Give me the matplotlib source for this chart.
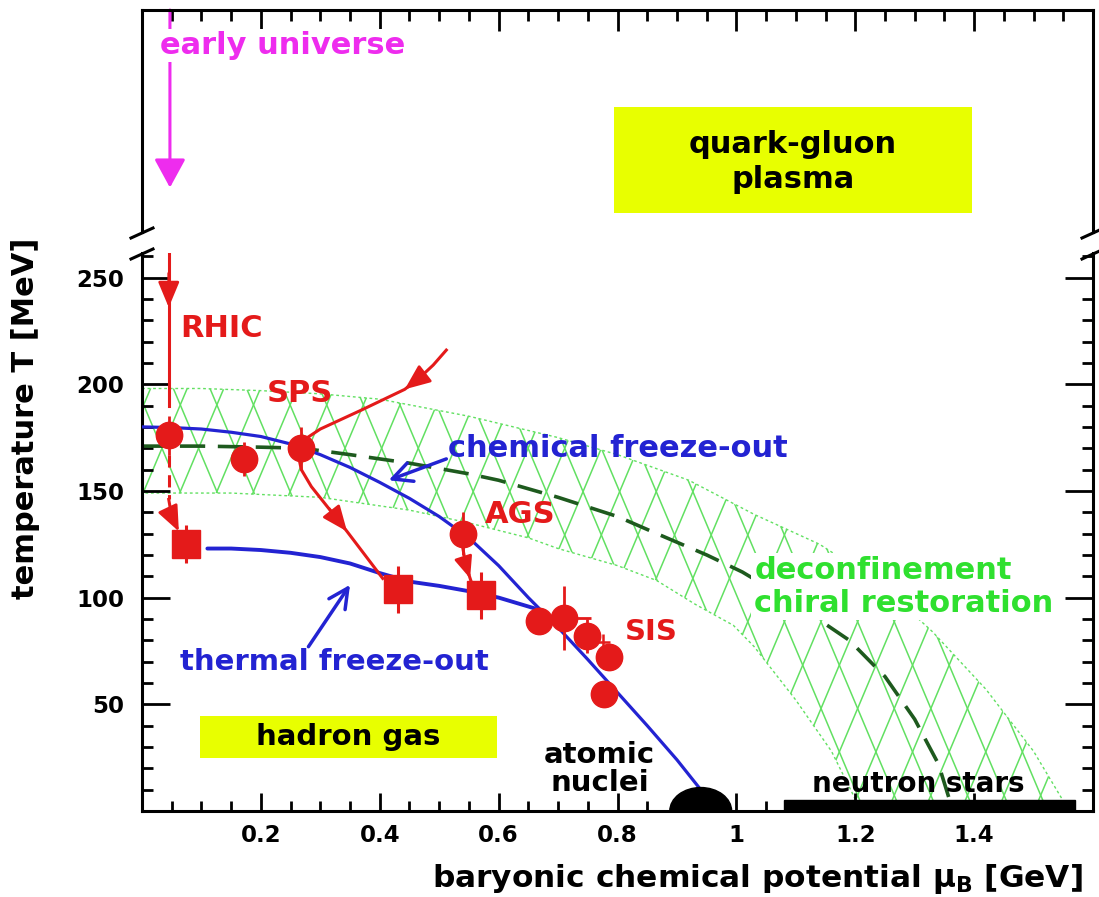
import numpy as np
import matplotlib
matplotlib.use('Agg')
import matplotlib.pyplot as plt
from matplotlib.patches import Polygon, Rectangle, Ellipse
from matplotlib.lines import Line2D
from matplotlib.collections import LineCollection
from matplotlib.ticker import MultipleLocator, FixedLocator, FixedFormatter

plt.rcParams['font.family'] = ['DejaVu Sans']
plt.rcParams['font.weight'] = 'bold'
plt.rcParams['mathtext.default'] = 'regular'

# ---------------- data ----------------
# chemical freeze-out points (red circles)
chem_mu  = [0.045, 0.172, 0.268, 0.540, 0.668, 0.710, 0.748, 0.786, 0.778]
chem_T   = [176,   165,   170,   130,   89,    90.5,  82,    72,    55]
chem_dT  = [9,     8,     10,    10,    0,     15,    8,     0,     0]
chem_dmu = [0,     0,     0,     0,     0,     0.045, 0,     0,     0]
sis_cross_mu = [0.775]
sis_cross_T = [79]

# thermal freeze-out points (red squares)
therm_mu = [0.074, 0.430, 0.570]
therm_T  = [125,   104,   101]
therm_dT = [9,     11,    11]

# chemical freeze-out curve (blue)
chem_curve_mu = [0.0, 0.05, 0.1, 0.15, 0.2, 0.25, 0.3, 0.35, 0.4, 0.45, 0.5,
                 0.55, 0.6, 0.65, 0.7, 0.75, 0.8, 0.85, 0.9, 0.94]
chem_curve_T = [180, 179.7, 179, 177.5, 175.5, 172, 167, 161, 154, 146.5, 138,
                128, 115, 100, 86, 71, 55.5, 40, 24, 10]

# thermal freeze-out curve (blue)
therm_curve_mu = [0.11, 0.15, 0.2, 0.25, 0.3, 0.35, 0.4, 0.45, 0.5, 0.55, 0.6, 0.66]
therm_curve_T = [123, 123, 122.3, 121, 119, 116, 111.5, 107.5, 105.5, 103, 100, 95]

# phase transition line (dark green dashed)
trans_mu = [0.0, 0.1, 0.2, 0.27, 0.35, 0.45, 0.55, 0.6, 0.7, 0.8, 0.866, 0.95,
            1.01, 1.1, 1.19, 1.25, 1.3, 1.34, 1.36]
trans_T = [171, 171, 170.5, 170, 167, 163, 158, 155, 147, 138, 130, 120,
           112, 97, 80, 63, 43, 22, 4]

# band of deconfinement / chiral restoration
band_outer_mu = [0.0, 0.1, 0.2, 0.3, 0.4, 0.55, 0.7, 0.8, 0.92, 1.03, 1.14,
                 1.24, 1.33, 1.42, 1.5, 1.56]
band_outer_T = [198, 198, 197, 195.5, 193, 185, 175, 167, 155, 139, 125,
                107, 84, 57, 28, 0]
band_inner_mu = [0.0, 0.15, 0.3, 0.45, 0.55, 0.65, 0.7, 0.8, 0.866, 0.93,
                 0.995, 1.03, 1.1, 1.16, 1.21]
band_inner_T = [149, 149, 147, 141, 135, 128, 123, 115, 108, 97,
                87, 77, 52, 28, 0]

# collision trajectories (red)
rhic_in_mu = [0.045, 0.045]
rhic_in_T = [261, 190]
rhic_dash_mu = [0.045, 0.045]
rhic_dash_T = [176, 146]
rhic_out_mu = [0.045, 0.050, 0.062]
rhic_out_T = [146, 138, 131]
sps_in_mu = [0.512, 0.490, 0.467, 0.442, 0.370, 0.300, 0.262]
sps_in_T = [216, 209, 203, 197.6, 188, 179, 172]
sps_out_mu = [0.262, 0.268, 0.285, 0.345, 0.405]
sps_out_T = [168, 160, 152, 131, 109]
ags_mu = [0.538, 0.545, 0.558]
ags_T = [126, 115, 104]

# nuclear matter / neutron stars
nuclei_mu, nuclei_halfwidth, nuclei_height = 0.94, 0.052, 11
nstar_mu0, nstar_mu1, nstar_T = 1.08, 1.57, 5

x_major = [0.2, 0.4, 0.6, 0.8, 1.0, 1.2, 1.4]
x_labels = ['0.2', '0.4', '0.6', '0.8', '1', '1.2', '1.4']
y_major = [50, 100, 150, 200, 250]
y_labels = ['50', '100', '150', '200', '250']

# ---------------- styles ----------------
RED = '#e41a1a'
BLUE = '#2323d2'
GREEN_T = '#2fe02f'
HATCH = '#62e062'
DKGREEN = '#1e5a1e'
MAGENTA = '#ee2cee'
YELLOW = '#e8ff00'

fig = plt.figure(figsize=(10.99, 8.97), dpi=100)
L, R = 142 / 1099, 1093 / 1099
ax = fig.add_axes([L, 86 / 897, R - L, 558 / 897])
axu = fig.add_axes([L, 665 / 897, R - L, 222 / 897])

for a in (ax, axu):
    for sp in a.spines.values():
        sp.set_linewidth(2.2)
ax.spines['top'].set_visible(False)
axu.spines['bottom'].set_visible(False)

ax.set_xlim(0, 1.6)
ax.set_ylim(0, 261.5)
axu.set_xlim(0, 1.6)
axu.set_ylim(0, 1)

ax.xaxis.set_major_locator(FixedLocator(x_major))
ax.xaxis.set_major_formatter(FixedFormatter(x_labels))
ax.xaxis.set_minor_locator(MultipleLocator(0.05))
ax.yaxis.set_major_locator(FixedLocator(y_major))
ax.yaxis.set_major_formatter(FixedFormatter(y_labels))
ax.yaxis.set_minor_locator(MultipleLocator(10))
ax.tick_params(which='both', direction='in', width=2, labelsize=16.5)
ax.tick_params(axis='x', which='major', length=13, top=False, pad=9)
ax.tick_params(axis='x', which='minor', length=7, top=False)
ax.tick_params(axis='y', which='major', length=20, right=True, pad=13)
ax.tick_params(axis='y', which='minor', length=8, right=True)

axu.xaxis.tick_top()
axu.xaxis.set_major_locator(FixedLocator(x_major))
axu.xaxis.set_minor_locator(MultipleLocator(0.05))
axu.tick_params(axis='x', which='both', direction='in', width=2, labeltop=False,
                labelbottom=False)
axu.tick_params(axis='x', which='major', length=15)
axu.tick_params(axis='x', which='minor', length=8)
axu.set_yticks([])

# ---------------- band ----------------
poly_xy = np.column_stack([band_outer_mu + band_inner_mu[::-1],
                           band_outer_T + band_inner_T[::-1]])
band = Polygon(poly_xy, closed=True, facecolor='none', edgecolor=HATCH,
               lw=1.0, ls=(0, (2, 2)), zorder=1)
ax.add_patch(band)
# cross-hatch pattern (style only): lines of slope +-slope, period 'step'
slope, step, phase_mu, phase_T = 660.0, 0.0616, 0.0336, 170.0
segs = []
for k in range(-20, 60):
    c1 = phase_mu - phase_T / slope + k * step
    c2 = phase_mu + phase_T / slope + (k - 20) * step
    segs.append([(c1, 0), (c1 + 262 / slope, 262)])
    segs.append([(c2, 0), (c2 - 262 / slope, 262)])
lc = LineCollection(segs, colors=HATCH, linewidths=1.1, zorder=1)
ax.add_collection(lc)
lc.set_clip_path(band)

ax.plot(trans_mu, trans_T, color=DKGREEN, lw=2.6, ls=(0, (7, 3.5)), zorder=2)

# ---------------- curves ----------------
ax.plot(chem_curve_mu, chem_curve_T, color=BLUE, lw=2.3, zorder=3,
        solid_capstyle='round')
ax.plot(therm_curve_mu, therm_curve_T, color=BLUE, lw=2.8, zorder=3,
        solid_capstyle='round')

# ---------------- trajectories ----------------
head = '-|>,head_length=0.6,head_width=0.25'
ax.plot(rhic_in_mu, rhic_in_T, color=RED, lw=2.2, zorder=4)
ax.annotate('', xy=(0.045, 236), xytext=(0.045, 252),
            arrowprops=dict(arrowstyle=head, color=RED, lw=2, mutation_scale=26,
                            shrinkA=0, shrinkB=0), zorder=4)
ax.plot(rhic_dash_mu, rhic_dash_T, color=RED, lw=2.2, ls=(0, (4, 2.5)), zorder=4)
ax.plot(rhic_out_mu[:-1], rhic_out_T[:-1], color=RED, lw=2.2, zorder=4)
ax.annotate('', xy=(rhic_out_mu[-1], rhic_out_T[-1]),
            xytext=(rhic_out_mu[-2], rhic_out_T[-2]),
            arrowprops=dict(arrowstyle=head, color=RED, lw=2, mutation_scale=26,
                            shrinkA=0, shrinkB=0), zorder=4)

ax.plot(sps_in_mu, sps_in_T, color=RED, lw=2.2, zorder=4)
ax.annotate('', xy=(0.442, 197.6), xytext=(0.467, 203),
            arrowprops=dict(arrowstyle=head, color=RED, lw=2, mutation_scale=26,
                            shrinkA=0, shrinkB=0), zorder=4)
ax.plot(sps_out_mu, sps_out_T, color=RED, lw=2.2, zorder=4)
ax.annotate('', xy=(0.345, 131), xytext=(0.315, 141.7),
            arrowprops=dict(arrowstyle=head, color=RED, lw=2, mutation_scale=26,
                            shrinkA=0, shrinkB=0), zorder=4)
ax.plot(ags_mu, ags_T, color=RED, lw=2.2, zorder=4)
ax.annotate('', xy=(0.552, 109), xytext=(0.545, 115),
            arrowprops=dict(arrowstyle=head, color=RED, lw=2, mutation_scale=22,
                            shrinkA=0, shrinkB=0), zorder=4)

# ---------------- data points ----------------
ax.errorbar(chem_mu, chem_T, yerr=chem_dT, xerr=chem_dmu, fmt='o', ms=19,
            color=RED, ecolor=RED, elinewidth=2, capsize=0, zorder=5)
ax.errorbar(sis_cross_mu, sis_cross_T, yerr=4, xerr=0.012, fmt='none',
            ecolor=RED, elinewidth=1.8, capsize=0, zorder=5)
ax.errorbar(therm_mu, therm_T, yerr=therm_dT, fmt='s', ms=20,
            color=RED, ecolor=RED, elinewidth=2.2, capsize=0, zorder=5)

# ---------------- nuclei / neutron stars ----------------
ax.add_patch(Ellipse((nuclei_mu, 0), 2 * nuclei_halfwidth, 2 * nuclei_height,
                     color='black', zorder=6))
ax.add_patch(Rectangle((nstar_mu0, 0), nstar_mu1 - nstar_mu0, nstar_T,
                       color='black', zorder=6))

# ---------------- annotation arrows ----------------
blue_head = '->,head_length=0.7,head_width=0.35'
ax.annotate('', xy=(0.415, 155), xytext=(0.512, 165),
            arrowprops=dict(arrowstyle=blue_head, color=BLUE, lw=2.5,
                            mutation_scale=20, shrinkA=0, shrinkB=0), zorder=5)
ax.annotate('', xy=(0.35, 106), xytext=(0.28, 77),
            arrowprops=dict(arrowstyle=blue_head, color=BLUE, lw=2.5,
                            mutation_scale=20, shrinkA=0, shrinkB=0), zorder=5)

# ---------------- texts ----------------
ax.text(0.064, 226, 'RHIC', color=RED, fontsize=22, ha='left', va='center', zorder=7)
ax.text(0.21, 195.5, 'SPS', color=RED, fontsize=22, ha='left', va='center', zorder=7)
ax.text(0.577, 139, 'AGS', color=RED, fontsize=22, ha='left', va='center', zorder=7)
ax.text(0.813, 84, 'SIS', color=RED, fontsize=21, ha='left', va='center', zorder=7)
ax.text(0.515, 170, 'chemical freeze-out', color=BLUE, fontsize=22,
        ha='left', va='center', zorder=7)
ax.text(0.064, 70, 'thermal freeze-out', color=BLUE, fontsize=21,
        ha='left', va='center', zorder=7)
ax.text(1.03, 105, 'deconfinement\nchiral restoration', color=GREEN_T, fontsize=22,
        ha='left', va='center', linespacing=1.15, zorder=7,
        bbox=dict(facecolor='white', edgecolor='none', pad=2))
ax.add_patch(Rectangle((0.0977, 24.8), 0.500, 19.7, facecolor=YELLOW,
                       edgecolor='none', zorder=6))
ax.text(0.347, 34.7, 'hadron gas', color='black', fontsize=21, ha='center',
        va='center', zorder=7)
ax.text(0.77, 19.5, 'atomic\nnuclei', color='black', fontsize=21, ha='center',
        va='center', linespacing=1.0, zorder=7)
ax.text(1.306, 12.7, 'neutron stars', color='black', fontsize=20, ha='center',
        va='center', zorder=5)

# upper panel
axu.add_patch(Rectangle((0.794, 0.086), 0.602, 0.477, facecolor=YELLOW,
                        edgecolor='none', zorder=1))
axu.text(1.095, 0.315, 'quark-gluon\nplasma', color='black', fontsize=22,
         ha='center', va='center', linespacing=1.25, zorder=3)
axu.annotate('', xy=(0.047, 0.2), xytext=(0.047, 1.0),
             arrowprops=dict(arrowstyle='-|>,head_length=0.55,head_width=0.3',
                             color=MAGENTA, lw=2.2, mutation_scale=32,
                             shrinkA=0, shrinkB=0), zorder=2)
axu.text(0.03, 0.84, 'early universe', color=MAGENTA, fontsize=22, ha='left',
         va='center', zorder=3,
         bbox=dict(facecolor='white', edgecolor='none', pad=1))

# axis labels
fig.text(26 / 1099, 1 - 418 / 897, 'temperature T [MeV]', rotation=90,
         fontsize=22, ha='center', va='center')
fig.text(757 / 1099, 1 - 879 / 897,
         r'baryonic chemical potential $\mu_{\rm B}$ [GeV]',
         fontsize=22.5, ha='center', va='center')

# axis break marks
def brk(xp, yp):
    fig.add_artist(Line2D([(xp - 11) / 1099, (xp + 11) / 1099],
                          [1 - (yp + 5) / 897, 1 - (yp - 5) / 897],
                          color='black', lw=2.2, transform=fig.transFigure))

for xp in (142, 1093):
    brk(xp, 233)
    brk(xp, 254)

fig.savefig('out.png', dpi=100)
